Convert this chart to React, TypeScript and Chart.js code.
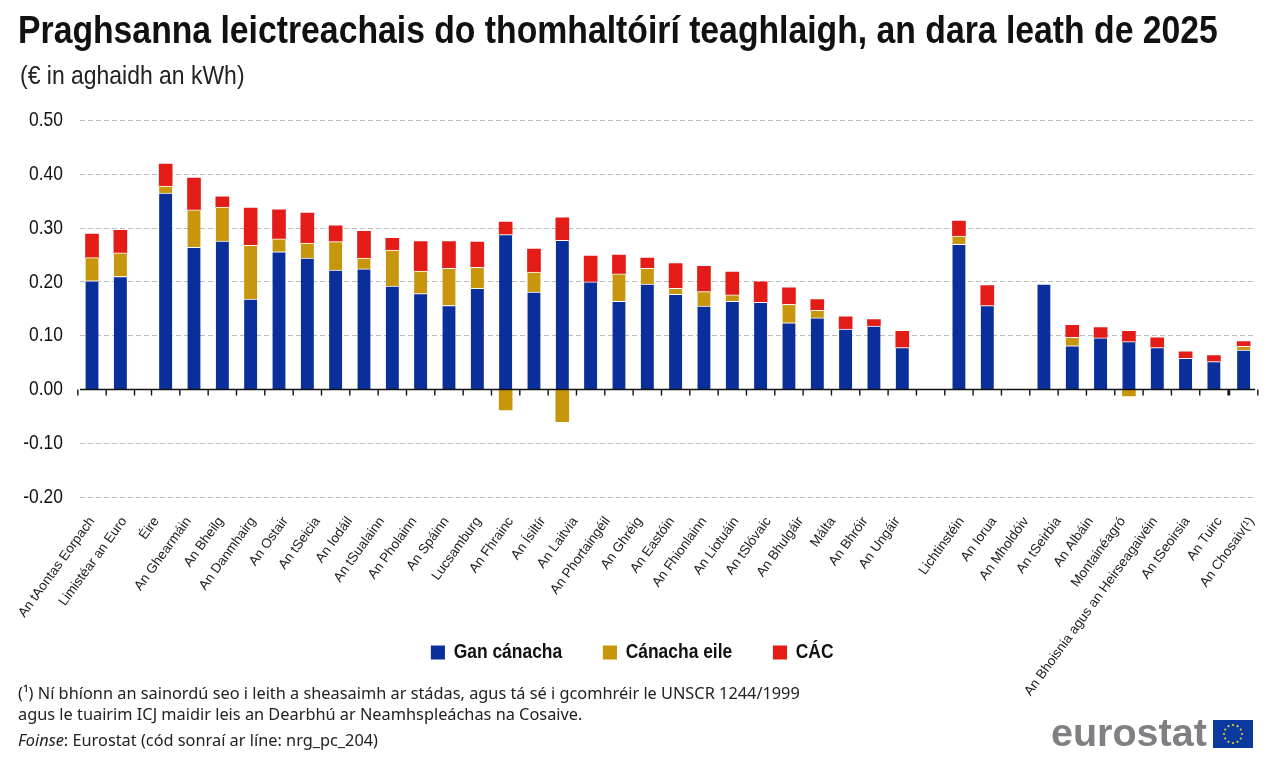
import { useEffect, useRef } from "react"
import { Chart, registerables } from "chart.js"

Chart.register(...registerables)

// one entry per bar, same order as in the picture
const noTax = [
  0.202, 0.21,
  0.365, 0.264, 0.276, 0.168, 0.256, 0.244, 0.222, 0.224, 0.192, 0.178, 0.156, 0.188, 0.288,
  0.181, 0.277, 0.2, 0.164, 0.196, 0.177, 0.155, 0.164, 0.162, 0.124, 0.133, 0.112, 0.118, 0.078,
  0.27, 0.156,
  0.196, 0.081, 0.096, 0.089, 0.078, 0.058, 0.052,
  0.073,
]
const otherTax = [
  0.043, 0.044,
  0.013, 0.07, 0.063, 0.1, 0.024, 0.028, 0.053, 0.02, 0.067, 0.042, 0.069, 0.039, -0.038,
  0.037, -0.06, null, 0.051, 0.029, 0.011, 0.027, 0.012, null, 0.034, 0.014, null, null, null,
  0.015, null,
  null, 0.016, null, -0.012, null, null, null,
  0.007,
]
const vat = [
  0.044, 0.042,
  0.041, 0.059, 0.019, 0.069, 0.054, 0.056, 0.029, 0.05, 0.022, 0.055, 0.05, 0.047, 0.023,
  0.043, 0.042, 0.048, 0.035, 0.019, 0.046, 0.047, 0.042, 0.038, 0.031, 0.02, 0.023, 0.012, 0.03,
  0.028, 0.037,
  null, 0.022, 0.019, 0.019, 0.018, 0.012, 0.011,
  0.009,
]

// the picture has 24 labels under the 27 bars of the long group, evenly spread
const tickLabels = [
  "An tAontas Eorpach", "Limistéar an Euro", "Éire", "An Ghearmáin", "An Bheilg", "An Danmhairg",
  "An Ostair", "An tSeicia", "An Iodáil", "An tSualainn", "An Pholainn", "An Spáinn", "Lucsamburg",
  "An Fhrainc", "An Ísiltír", "An Laitvia", "An Phortaingéil", "An Ghréig", "An Eastóin",
  "An Fhionlainn", "An Liotuáin", "An tSlóvaic", "An Bhulgáir", "Málta", "An Bhróir", "An Ungáir",
  "", "Lichtinstéin", "An Iorua", "An Mholdóiv", "An tSeirbia", "An Albáin", "Montainéagró",
  "An Bhoisnia agus an Heirseagaivéin", "An tSeoirsia", "An Tuirc", "An Chosaiv(¹)",
]
const yTicks = [0.5, 0.4, 0.3, 0.2, 0.1, 0, -0.1, -0.2]

const groupSizes = [2, 27, 2, 7, 1]
const groupGaps = [0.6, 1, 1, 0.05]
const labelStep = 1.137

const barX: number[] = []
let cursor = 0
groupSizes.forEach((size, g) => {
  for (let i = 0; i < size; i++) barX.push(cursor + i)
  cursor += size + (groupGaps[g] ?? 0)
})

const shownLabels = tickLabels.filter((l) => l !== "")
const labelX = tickLabels.flatMap((l, i) => (l === "" ? [] : [i * labelStep]))

const SANS = '"Liberation Sans", sans-serif'
const NARROW_X = 0.83 // no condensed face is installed, so the text gets squeezed
const BLUE = "#0a2f9b"
const GOLD = "#c8960c"
const RED = "#e41c18"

const points = (values: (number | null)[]) => values.map((y, i) => ({ x: barX[i], y }))

function squeezed(ctx: CanvasRenderingContext2D, cx: number, draw: () => void) {
  ctx.save()
  ctx.translate(cx, 0)
  ctx.scale(NARROW_X, 1)
  ctx.translate(-cx, 0)
  draw()
  ctx.restore()
}

// black zero line with the tick marks between the bars
const zeroAxis = {
  id: "zeroAxis",
  afterDatasetsDraw(chart: any) {
    const { ctx, scales, chartArea } = chart
    const y0 = scales.y.getPixelForValue(0)
    ctx.save()
    ctx.strokeStyle = "#111"
    ctx.lineWidth = 1.4
    ctx.beginPath()
    ctx.moveTo(chartArea.left, y0)
    ctx.lineTo(chartArea.right, y0)
    barX.forEach((x) => {
      for (const edge of [x - 0.5, x + 0.5]) {
        const px = scales.x.getPixelForValue(edge)
        ctx.moveTo(px, y0)
        ctx.lineTo(px, y0 + 6)
      }
    })
    ctx.stroke()
    ctx.restore()
  },
}

// legend keeps its room above the plot but is shown under the labels,
// y labels and legend are drawn narrow like the reference
const narrowText = {
  id: "narrowText",
  afterLayout(chart: any) {
    const { legend, scales, ctx } = chart
    const h = legend.height
    legend.top = 593
    legend.bottom = 593 + h
    if (!legend.squeezed) {
      legend.squeezed = true
      const drawLegend = legend.draw.bind(legend)
      legend.draw = () => squeezed(ctx, 655, drawLegend)
      const drawLabels = scales.y.drawLabels.bind(scales.y)
      scales.y.drawLabels = (area: any) => squeezed(ctx, 63, () => drawLabels(area))
    }
  },
}

function Flag() {
  const stars = Array.from({ length: 12 }, (_, i) => (i * Math.PI) / 6)
  return (
    <svg width={40} height={28} style={{ position: "absolute", left: 1213, top: 720 }}>
      <rect width={40} height={28} fill="#0b3a9e" />
      {stars.map((a, i) => (
        <circle key={i} cx={20 + 9 * Math.cos(a)} cy={14 + 9 * Math.sin(a)} r={1.1} fill="#e8d21d" />
      ))}
    </svg>
  )
}

export default function App() {
  const chartRef = useRef<HTMLCanvasElement>(null)

  useEffect(() => {
    if (!chartRef.current) return
    const chart = new Chart(chartRef.current, {
      type: "bar",
      data: {
        datasets: [
          {
            label: "Gan cánacha",
            data: points(noTax),
            backgroundColor: BLUE,
            borderColor: "#fff",
            borderWidth: { top: 1, right: 0, bottom: 0, left: 0 },
          },
          {
            label: "Cánacha eile",
            data: points(otherTax),
            backgroundColor: GOLD,
            borderColor: "#fff",
            borderWidth: { top: 1, right: 0, bottom: 0, left: 0 },
          },
          { label: "CÁC", data: points(vat), backgroundColor: RED },
        ] as any,
      },
      options: {
        responsive: false,
        animation: false,
        layout: { padding: { top: 40.5, right: 25, bottom: 0, left: 0 } },
        datasets: { bar: { barThickness: 13 } },
        plugins: {
          tooltip: { enabled: false },
          legend: {
            position: "top",
            labels: {
              boxWidth: 17,
              boxHeight: 14,
              padding: 49,
              color: "#111",
              font: { family: SANS, size: 21, weight: "bold" },
              generateLabels: (c: Chart) =>
                Chart.defaults.plugins.legend.labels
                  .generateLabels(c)
                  .map((item: any) => ({ ...item, lineWidth: 0 })),
            },
          },
        },
        scales: {
          x: {
            type: "linear",
            stacked: true,
            offset: false,
            bounds: "data",
            min: -0.424,
            max: 41.05,
            border: { display: false },
            grid: { display: false, offset: false },
            afterBuildTicks: (scale: any) => {
              scale.ticks = labelX.map((value) => ({ value }))
            },
            afterFit: (scale: any) => {
              scale.height = 267
              scale.paddingLeft = 0
              scale.paddingRight = 0
            },
            ticks: {
              autoSkip: false,
              minRotation: 54,
              maxRotation: 54,
              padding: 9,
              color: "#222",
              font: { family: SANS, size: 13.5 },
              callback: (_v: any, i: number) => shownLabels[i],
            },
          },
          y: {
            stacked: true,
            min: -0.2,
            max: 0.5,
            border: { display: false, dash: [5, 3] },
            grid: { color: "#bdbdbd", lineWidth: 1, drawTicks: false },
            afterBuildTicks: (scale: any) => {
              scale.ticks = yTicks.map((value) => ({ value }))
            },
            afterFit: (scale: any) => {
              scale.width = 80
            },
            ticks: {
              padding: 17,
              color: "#111",
              font: { family: SANS, size: 21 },
              callback: (v: any) => Number(v).toFixed(2),
            },
          },
        },
      },
      plugins: [zeroAxis, narrowText],
    } as any)

    return () => chart.destroy()
  }, [])

  return (
    <div style={{ position: "absolute", left: 0, top: 0, width: 1280, height: 764, background: "#fff", overflow: "hidden" }}>
      <canvas ref={chartRef} width={1280} height={764} style={{ position: "absolute", left: 0, top: 0 }} />
      <div style={{ position: "absolute", left: 18, top: 8, fontFamily: SANS, fontWeight: 700, fontSize: 39, color: "#111", whiteSpace: "nowrap", transform: "scaleX(0.865)", transformOrigin: "left" }}>
        Praghsanna leictreachais do thomhaltóirí teaghlaigh, an dara leath de 2025
      </div>
      <div style={{ position: "absolute", left: 20, top: 61, fontFamily: SANS, fontSize: 25, color: "#222", whiteSpace: "nowrap", transform: "scaleX(0.918)", transformOrigin: "left" }}>
        (€ in aghaidh an kWh)
      </div>
      <div style={{ position: "absolute", left: 18, top: 682, fontFamily: '"Noto Sans", sans-serif', fontSize: 17, lineHeight: "21px", color: "#222", whiteSpace: "nowrap", transform: "scaleX(0.96)", transformOrigin: "left" }}>
        <div>(¹) Ní bhíonn an sainordú seo i leith a sheasaimh ar stádas, agus tá sé i gcomhréir le UNSCR 1244/1999</div>
        <div>agus le tuairim ICJ maidir leis an Dearbhú ar Neamhspleáchas na Cosaive.</div>
        <div style={{ marginTop: 5 }}>
          <i>Foinse</i>: Eurostat (cód sonraí ar líne: nrg_pc_204)
        </div>
      </div>
      <div style={{ position: "absolute", left: 1051, top: 710, fontFamily: SANS, fontWeight: 700, fontSize: 39.5, color: "#7f8083", whiteSpace: "nowrap" }}>
        eurostat
      </div>
      <Flag />
    </div>
  )
}
